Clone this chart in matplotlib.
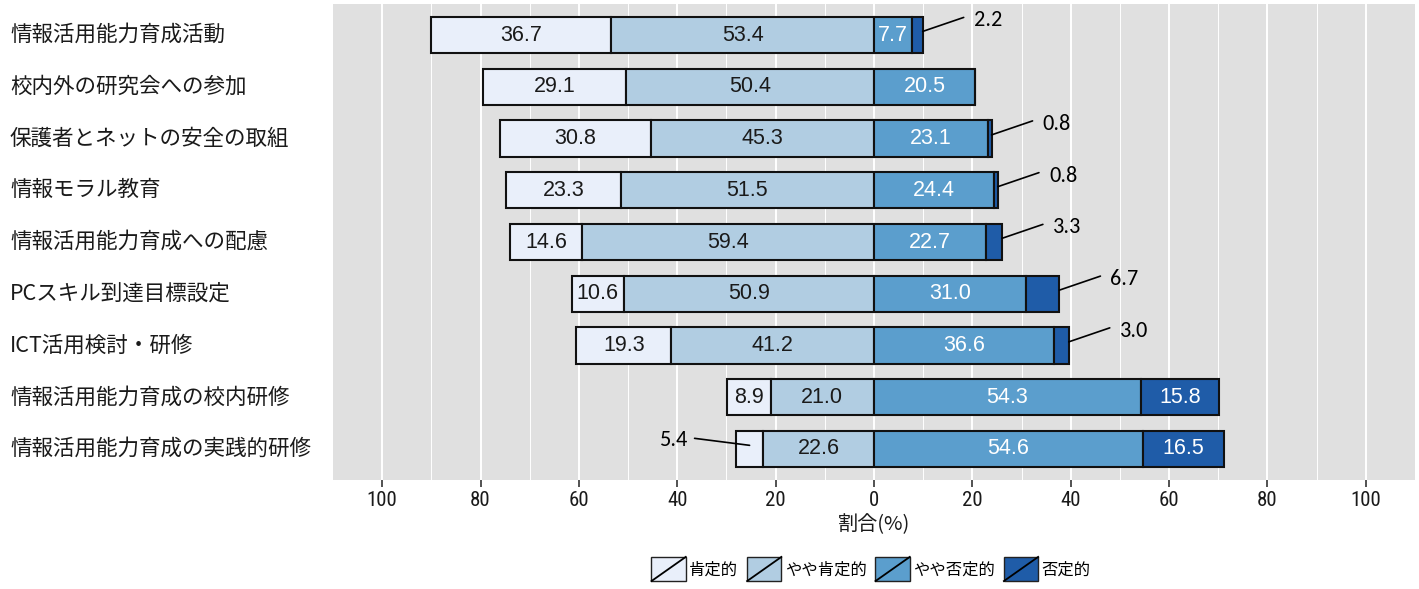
import matplotlib
matplotlib.use("Agg")
import matplotlib.pyplot as plt
from matplotlib import font_manager, transforms
from matplotlib.patches import Rectangle
from matplotlib.lines import Line2D
from matplotlib.legend_handler import HandlerBase
import numpy as np

# ---------------- data ----------------
categories = [
    "情報活用能力育成活動",
    "校内外の研究会への参加",
    "保護者とネットの安全の取組",
    "情報モラル教育",
    "情報活用能力育成への配慮",
    "PCスキル到達目標設定",
    "ICT活用検討・研修",
    "情報活用能力育成の校内研修",
    "情報活用能力育成の実践的研修",
]
positive = [36.7, 29.1, 30.8, 23.3, 14.6, 10.6, 19.3, 8.9, 5.4]
somewhat_positive = [53.4, 50.4, 45.3, 51.5, 59.4, 50.9, 41.2, 21.0, 22.6]
somewhat_negative = [7.7, 20.5, 23.1, 24.4, 22.7, 31.0, 36.6, 54.3, 54.6]
negative = [2.2, 0.0, 0.8, 0.8, 3.3, 6.7, 3.0, 15.8, 16.5]
series_names = ["肯定的", "やや肯定的", "やや否定的", "否定的"]
x_ticks = [-100, -80, -60, -40, -20, 0, 20, 40, 60, 80, 100]
x_label = "割合(%)"

# ---------------- style ----------------
colors = ["#E9EFFA", "#B1CDE2", "#5B9ECD", "#1F5CA8"]
text_colors = ["#1a1a1a", "#1a1a1a", "white", "white"]
panel_bg = "#E0E0E0"


def pick_font(names):
    for n in names:
        try:
            font_manager.findfont(n, fallback_to_default=False)
            return n
        except Exception:
            continue
    return "DejaVu Sans"


narrow = pick_font(["Liberation Sans Narrow", "Roboto Condensed", "Liberation Sans"])
regular = pick_font(["Liberation Sans", "DejaVu Sans"])
calib = pick_font(["Carlito", "Lato", "Open Sans"])
plt.rcParams["font.family"] = ["Noto Sans CJK JP", "DejaVu Sans"]

W, H = 1419, 589
fig = plt.figure(figsize=(W / 100, H / 100), dpi=100)
ax = fig.add_axes([333 / W, 1 - 480 / H, (1415 - 333) / W, (480 - 4) / H])
ax.set_facecolor(panel_bg)
for s in ax.spines.values():
    s.set_visible(False)

n = len(categories)
y = np.arange(n)
bar_h = 0.7

pos = np.array(positive)
spos = np.array(somewhat_positive)
sneg = np.array(somewhat_negative)
neg = np.array(negative)

segments = [
    (-(pos + spos), pos),
    (-spos, spos),
    (np.zeros(n), sneg),
    (sneg, neg),
]

ax.set_xlim(-110, 110)
ax.set_ylim(n - 1 + 0.6, -0.6)

ax.set_xticks(x_ticks)
ax.set_xticks([t for t in range(-110, 111, 10) if t % 20 != 0 and abs(t) < 110], minor=True)
ax.grid(True, which="major", axis="x", color="white", lw=1.4, zorder=0)
ax.grid(True, which="minor", axis="x", color="white", lw=0.7, zorder=0)
ax.set_axisbelow(True)

for i, (left, width) in enumerate(segments):
    ax.barh(y, width, left=left, height=bar_h, color=colors[i],
            edgecolor="#111111", linewidth=1.5, zorder=3)

values = [pos, spos, sneg, neg]
for i, (left, width) in enumerate(segments):
    for j in range(n):
        v = values[i][j]
        if v >= 7:
            ax.text(left[j] + width[j] / 2, y[j], f"{v:.1f}", ha="center", va="center",
                    color=text_colors[i], fontsize=15.5, family=regular, zorder=5)

px = 72 / 100.0
for j in range(n):
    v = neg[j]
    if 0 < v < 7:
        x0 = sneg[j] + neg[j]
        ax.annotate("", xy=(x0, y[j] - 0.07), xytext=(41 * px, 14 * px),
                    textcoords="offset points",
                    arrowprops=dict(arrowstyle="-", color="black", lw=1.2,
                                    shrinkA=0, shrinkB=0), zorder=6)
        ax.annotate(f"{v:.1f}", xy=(x0, y[j] - 0.07), xytext=(51 * px, 11 * px),
                    textcoords="offset points", ha="left", va="center",
                    fontsize=16, family=calib, color="black", zorder=6)
    v = pos[j]
    if 0 < v < 7:
        x0 = -(spos[j] + pos[j] / 2)
        ax.annotate("", xy=(x0, y[j] - 0.07), xytext=(-55 * px, 7 * px),
                    textcoords="offset points",
                    arrowprops=dict(arrowstyle="-", color="black", lw=1.2,
                                    shrinkA=0, shrinkB=0), zorder=6)
        ax.annotate(f"{v:.1f}", xy=(x0, y[j] - 0.07), xytext=(-61 * px, 5 * px),
                    textcoords="offset points", ha="right", va="center",
                    fontsize=16, family=calib, color="black", zorder=6)

ax.set_xticklabels([str(abs(t)) for t in x_ticks], fontsize=15, family=narrow, color="#1a1a1a")
ax.tick_params(axis="x", which="major", length=5, width=1.2, color="#333333", pad=3)
ax.tick_params(axis="x", which="minor", length=0)
ax.set_xlabel(x_label, fontsize=14.5, labelpad=3, color="#1a1a1a")
ax.set_yticks([])

tr = transforms.blended_transform_factory(fig.transFigure, ax.transData)
for j, c in enumerate(categories):
    ax.text(10 / W, y[j], c, transform=tr, ha="left", va="center",
            fontsize=15.5, color="#1a1a1a", clip_on=False)


class DiagHandler(HandlerBase):
    def create_artists(self, legend, orig_handle, xdescent, ydescent,
                       width, height, fontsize, trans):
        r = Rectangle((-xdescent, -ydescent), width, height,
                      facecolor=orig_handle.get_facecolor(), edgecolor="#222222",
                      lw=1.0, transform=trans)
        l = Line2D([-xdescent, -xdescent + width], [-ydescent, -ydescent + height],
                   color="black", lw=1.3, transform=trans)
        return [r, l]


handles = [Rectangle((0, 0), 1, 1, facecolor=c) for c in colors]
leg = fig.legend(handles, series_names, loc="center",
                 bbox_to_anchor=(871 / W, 1 - 569 / H), ncol=4, frameon=False,
                 handler_map={Rectangle: DiagHandler()}, fontsize=11.75,
                 handlelength=2.1, handleheight=1.9, handletextpad=0.2,
                 columnspacing=0.55, borderpad=0.1)

fig.savefig("out.png", dpi=100, facecolor="white")
